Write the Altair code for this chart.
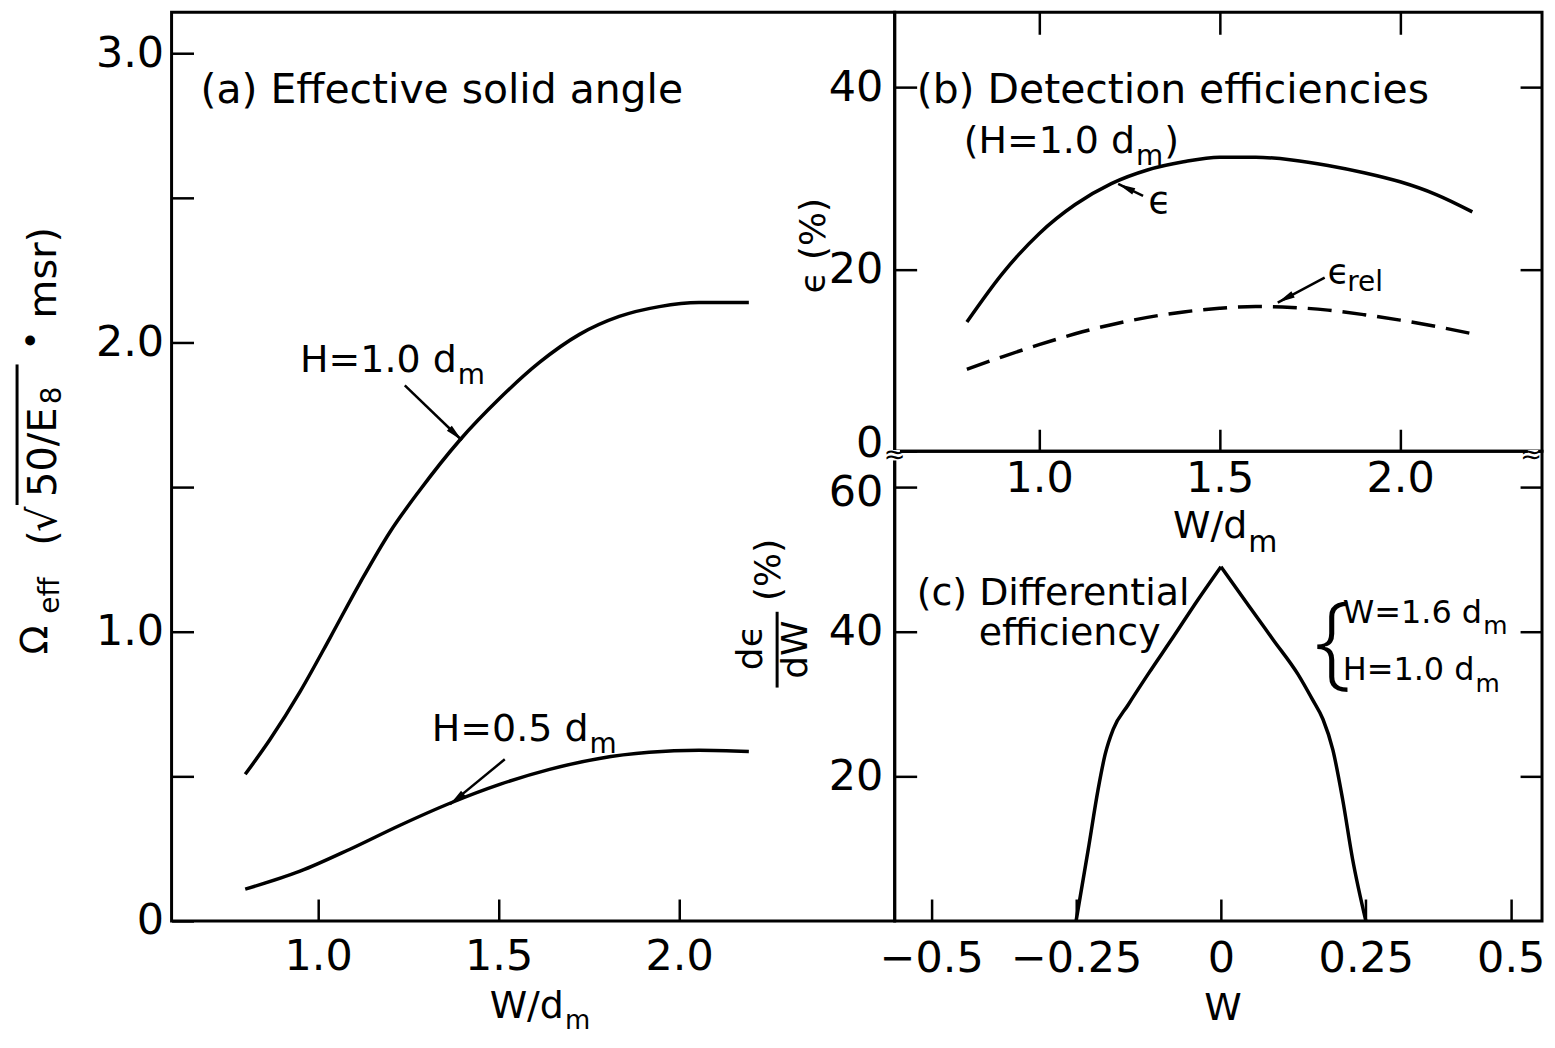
import math
import altair as alt
import pandas as pd

FONT = "DejaVu Sans"

# ---------------- data ----------------
# (a) effective solid angle
a_w_h10 = [0.798, 0.867, 0.950, 1.033, 1.116, 1.199, 1.282, 1.392, 1.503, 1.613, 1.724, 1.834, 1.945, 2.055, 2.193]
a_om_h10 = [0.507, 0.628, 0.793, 0.979, 1.169, 1.345, 1.490, 1.662, 1.807, 1.931, 2.028, 2.090, 2.124, 2.138, 2.138]
a_w_h05 = [0.798, 0.950, 1.088, 1.227, 1.365, 1.503, 1.641, 1.779, 1.917, 2.055, 2.193]
a_om_h05 = [0.110, 0.172, 0.248, 0.331, 0.407, 0.472, 0.524, 0.562, 0.583, 0.590, 0.586]

# (b) detection efficiencies
b_w = [0.8, 0.9, 1.0, 1.1, 1.2, 1.3, 1.4, 1.5, 1.6, 1.7, 1.8, 1.9, 2.0, 2.1, 2.2]
b_eps = [14.2, 19.6, 23.9, 27.1, 29.4, 30.9, 31.8, 32.3, 32.3, 32.0, 31.4, 30.6, 29.6, 28.2, 26.3]
b_eps_rel = [9.0, 10.4, 11.7, 12.9, 13.9, 14.7, 15.3, 15.7, 15.9, 15.8, 15.5, 15.0, 14.4, 13.7, 12.9]

# (c) differential efficiency (rising and falling sides meet at the peak)
c_w_left = [-0.25, -0.229, -0.212, -0.2, -0.186, -0.16, -0.126, -0.083, -0.04, 0.0]
c_de_left = [0.0, 9.9, 18.2, 23.0, 26.5, 29.9, 34.1, 39.2, 44.4, 49.0]
c_w_right = [0.0, 0.047, 0.09, 0.133, 0.158, 0.176, 0.193, 0.21, 0.227, 0.25]
c_de_right = [49.0, 43.7, 38.9, 34.1, 30.6, 27.9, 23.7, 16.8, 8.6, 0.0]

# ticks
a_x_ticks = [1.0, 1.5, 2.0]
a_y_ticks = [0, 0.5, 1.0, 1.5, 2.0, 2.5, 3.0]
b_x_ticks = [1.0, 1.5, 2.0]
b_y_ticks = [0, 20, 40]
c_x_ticks = [-0.5, -0.25, 0, 0.25, 0.5]
c_y_ticks = [20, 40, 60]

# panel geometry (domains / sizes)
A_X, A_Y, A_W, A_H = [0.594, 2.597], [0, 3.1414], 725, 911
B_X, B_Y, B_W, B_H = [0.6, 2.393], [0, 48.22], 649, 440
C_X, C_Y, C_W, C_H = [-0.563, 0.554], [0, 64.97], 649, 471

EPS = "ϵ"

# DejaVu Sans advance widths (em)
ADV = {' ': 0.318, '(': 0.390, ')': 0.390, '=': 0.838, '.': 0.318, '/': 0.337,
       'H': 0.752, 'W': 0.989, 'd': 0.635, EPS: 0.52, 'E': 0.632, 'e': 0.615,
       'f': 0.352, 'm': 0.974, 's': 0.521, 'r': 0.411, 'l': 0.278, '%': 0.950}


def tw(s, size):
    return sum(ADV.get(ch, 0.636) for ch in s) * size


def scl(dom):
    return alt.Scale(domain=dom, nice=False, zero=False)


def axis(orient, values, labels=True, fmt=None, expr=None, pad=10, tick=22, loff=None):
    kw = dict(orient=orient, values=values, title=None, domain=False, ticks=True,
              tickSize=tick, offset=-tick, tickColor="black", tickWidth=2.5, grid=False,
              labels=labels, labelFont=FONT, labelFontSize=43, labelColor="black",
              labelPadding=pad, labelFlush=False, labelOverlap=False, labelBound=False)
    if fmt:
        kw["format"] = fmt
    if expr:
        kw["labelExpr"] = expr
    if loff is not None:
        kw["labelOffset"] = loff
    return alt.Axis(**kw)


def txt(xs, ys, t, x, y, size, align="left", baseline="alphabetic", angle=0, dx=0, dy=0,
        font=FONT, weight="normal"):
    df = pd.DataFrame({"x": [x], "y": [y], "t": [t]})
    return alt.Chart(df).mark_text(align=align, baseline=baseline, angle=angle, dx=dx, dy=dy,
                                   fontSize=size, font=font, fontWeight=weight, color="black").encode(
        x=alt.X("x:Q", scale=xs, axis=None), y=alt.Y("y:Q", scale=ys, axis=None), text="t:N")


def sub_txt(xs, ys, x, y, base, bsize, sub, ssize, sdy, tail=None):
    out = [txt(xs, ys, base, x, y, bsize)]
    dx = tw(base, bsize) + 1
    out.append(txt(xs, ys, sub, x, y, ssize, dx=dx, dy=sdy))
    if tail:
        out.append(txt(xs, ys, tail, x, y, bsize, dx=dx + tw(sub, ssize) + 1))
    return out


ARROW = "M0,0L0.45,2.2L-0.45,2.2Z"


def arrow(xs, ys, kx, ky, x1, y1, x2, y2):
    df = pd.DataFrame({"x": [x1], "y": [y1], "x2": [x2], "y2": [y2]})
    rule = alt.Chart(df).mark_rule(color="black", strokeWidth=2.5).encode(
        x=alt.X("x:Q", scale=xs, axis=None), y=alt.Y("y:Q", scale=ys, axis=None),
        x2="x2:Q", y2="y2:Q")
    ang = math.degrees(math.atan2((x2 - x1) * kx, (y2 - y1) * ky)) % 360
    head = alt.Chart(pd.DataFrame({"x": [x2], "y": [y2]})).mark_point(
        shape=ARROW, filled=True, size=250, angle=ang, color="black", opacity=1).encode(
        x=alt.X("x:Q", scale=xs, axis=None), y=alt.Y("y:Q", scale=ys, axis=None))
    return [rule, head]


# ---------------- panel (a) ----------------
xa, ya = scl(A_X), scl(A_Y)
kxa, kya = A_W / (A_X[1] - A_X[0]), A_H / (A_Y[1] - A_Y[0])
a_expr = "datum.value == 0 ? '0' : (datum.value % 1 == 0 ? format(datum.value, '.1f') : '')"
la1 = alt.Chart(pd.DataFrame({"W": a_w_h10, "v": a_om_h10})).mark_line(
    color="black", strokeWidth=3.5, interpolate="monotone").encode(
    x=alt.X("W:Q", scale=xa, axis=axis("bottom", a_x_ticks, fmt=".1f", pad=15)),
    y=alt.Y("v:Q", scale=ya, axis=axis("left", a_y_ticks, expr=a_expr, pad=8)))
la2 = alt.Chart(pd.DataFrame({"W": a_w_h05, "v": a_om_h05})).mark_line(
    color="black", strokeWidth=3.5, interpolate="monotone").encode(
    x=alt.X("W:Q", scale=xa, axis=None), y=alt.Y("v:Q", scale=ya, axis=None))

ann_a = [txt(xa, ya, "(a) Effective solid angle", 0.674, 2.828, 41)]
ann_a += sub_txt(xa, ya, 0.950, 1.897, "H=1.0 d", 38, "m", 28, 12)
ann_a += arrow(xa, ya, kxa, kya, 1.240, 1.852, 1.398, 1.662)
ann_a += sub_txt(xa, ya, 1.315, 0.621, "H=0.5 d", 38, "m", 28, 12)
ann_a += arrow(xa, ya, kxa, kya, 1.517, 0.559, 1.365, 0.403)
ann_a += sub_txt(xa, ya, 1.475, -0.334, "W/d", 38, "m", 26, 11)
# rotated y-axis title pieces
ann_a += [
    txt(xa, ya, "Ω", 0.249, 0.921, 38, angle=270),
    txt(xa, ya, "eff", 0.282, 1.062, 28, angle=270),
    txt(xa, ya, "(", 0.2736, 1.297, 40, angle=270),
    txt(xa, ya, "√", 0.2736, 1.345, 40, angle=270),
    txt(xa, ya, "50/E", 0.2736, 1.466, 40, angle=270),
    txt(xa, ya, "8", 0.2875, 1.786, 28, angle=270),
    txt(xa, ya, "•", 0.2377, 1.972, 34, angle=270),
    txt(xa, ya, "msr)", 0.2736, 2.083, 40, angle=270),
]
ann_a.append(alt.Chart(pd.DataFrame({"x": [0.166], "y": [1.438], "y2": [1.924]})).mark_rule(
    color="black", strokeWidth=3).encode(
    x=alt.X("x:Q", scale=xa, axis=None), y=alt.Y("y:Q", scale=ya, axis=None), y2="y2:Q"))

panel_a = alt.layer(la1, la2, *ann_a).resolve_axis(x="independent", y="independent").properties(
    width=A_W, height=A_H)

# ---------------- panel (b) ----------------
xb, yb = scl(B_X), scl(B_Y)
kxb, kyb = B_W / (B_X[1] - B_X[0]), B_H / (B_Y[1] - B_Y[0])
b_loff = {"condition": {"test": "datum.value == 0", "value": -8}, "value": 0}
lb1 = alt.Chart(pd.DataFrame({"W": b_w, "v": b_eps})).mark_line(
    color="black", strokeWidth=3.5, interpolate="monotone").encode(
    x=alt.X("W:Q", scale=xb, axis=axis("bottom", b_x_ticks, fmt=".1f", pad=6)),
    y=alt.Y("v:Q", scale=yb, axis=axis("left", b_y_ticks, fmt="d", pad=12, loff=b_loff)))
lb2 = alt.Chart(pd.DataFrame({"W": b_w, "v": b_eps_rel})).mark_line(
    color="black", strokeWidth=3.5, strokeDash=[24, 11], interpolate="monotone").encode(
    x=alt.X("W:Q", scale=xb, axis=axis("top", b_x_ticks, labels=False)),
    y=alt.Y("v:Q", scale=yb, axis=axis("right", [20, 40], labels=False)))

ann_b = [txt(xb, yb, "(b) Detection efficiencies", 0.661, 38.25, 41)]
ann_b += sub_txt(xb, yb, 0.791, 32.77, "(H=1.0 d", 38, "m", 28, 12, tail=")")
ann_b += [txt(xb, yb, EPS, 1.302, 26.19, 38)]
ann_b += arrow(xb, yb, kxb, kyb, 1.288, 28.05, 1.219, 29.37)
ann_b += sub_txt(xb, yb, 1.799, 18.41, EPS, 36, "rel", 28, 7)
ann_b += arrow(xb, yb, kxb, kyb, 1.791, 19.07, 1.661, 16.33)
ann_b += [txt(xb, yb, EPS + " (%)", 0.376, 22.58, 36, align="center", baseline="middle", angle=270)]
ann_b += sub_txt(xb, yb, 1.371, -9.53, "W/d", 38, "m", 30, 14)

panel_b = alt.layer(lb1, lb2, *ann_b).resolve_axis(x="independent", y="independent").properties(
    width=B_W, height=B_H)

# ---------------- panel (c) ----------------
xc, yc = scl(C_X), scl(C_Y)
c_expr = "datum.value == 0 ? '0' : format(datum.value, '~g')"
c_loff = {"condition": {"test": "datum.value == 60", "value": 5}, "value": 0}
c_df = pd.DataFrame({
    "W": c_w_left + c_w_right,
    "v": c_de_left + c_de_right,
    "side": ["rise"] * len(c_w_left) + ["fall"] * len(c_w_right),
})
lc1 = alt.Chart(c_df).mark_line(color="black", strokeWidth=3.5, interpolate="monotone").encode(
    x=alt.X("W:Q", scale=xc, axis=axis("bottom", c_x_ticks, expr=c_expr, pad=17)),
    y=alt.Y("v:Q", scale=yc, axis=axis("left", c_y_ticks, fmt="d", pad=12, loff=c_loff)),
    detail="side:N")
lc2 = alt.Chart(c_df).mark_line(opacity=0).encode(
    x=alt.X("W:Q", scale=xc, axis=None),
    y=alt.Y("v:Q", scale=yc, axis=axis("right", c_y_ticks, labels=False)),
    detail="side:N")

ann_c = [
    txt(xc, yc, "(c) Differential", -0.525, 43.72, 38),
    txt(xc, yc, "efficiency", -0.418, 38.21, 38),
    txt(xc, yc, "{", 0.1928, 38.21, 104, align="center", baseline="middle",
        font="Open Sans", weight=300),
]
ann_c += sub_txt(xc, yc, 0.2100, 41.24, "W=1.6 d", 32, "m", 25, 11)
ann_c += sub_txt(xc, yc, 0.2100, 33.38, "H=1.0 d", 32, "m", 25, 12)
ann_c += [
    txt(xc, yc, "d" + EPS, -0.811, 37.79, 36, align="center", baseline="middle", angle=270),
    txt(xc, yc, "dW", -0.7332, 37.52, 36, align="center", baseline="middle", angle=270),
    txt(xc, yc, "(%)", -0.7797, 48.55, 36, align="center", baseline="middle", angle=270),
    txt(xc, yc, "W", 0.0034, -13.66, 38, align="center"),
]
ann_c.append(alt.Chart(pd.DataFrame({"x": [-0.7659], "y": [32.28], "y2": [42.76]})).mark_rule(
    color="black", strokeWidth=3).encode(
    x=alt.X("x:Q", scale=xc, axis=None), y=alt.Y("y:Q", scale=yc, axis=None), y2="y2:Q"))
brk_l = pd.DataFrame({"x": [C_X[0]], "y": [64.41], "t": ["≈"]})
brk_r = pd.DataFrame({"x": [C_X[1]], "y": [64.41], "t": ["≈"]})
for df_b, al, sq_off in [(brk_l, "center", 0), (brk_r, "right", -9)]:
    ann_c.append(alt.Chart(df_b).mark_point(shape="square", filled=True, color="white", size=110,
                                            opacity=1, xOffset=sq_off).encode(
        x=alt.X("x:Q", scale=xc, axis=None), y=alt.Y("y:Q", scale=yc, axis=None)))
    ann_c.append(alt.Chart(df_b).mark_text(fontSize=26, font=FONT, color="black", baseline="middle",
                                           align=al).encode(
        x=alt.X("x:Q", scale=xc, axis=None), y=alt.Y("y:Q", scale=yc, axis=None), text="t:N"))

panel_c = alt.layer(lc1, lc2, *ann_c).resolve_axis(x="independent", y="independent").properties(
    width=C_W, height=C_H)

chart = alt.hconcat(
    panel_a,
    alt.vconcat(panel_b, panel_c, spacing=0, bounds="flush"),
    spacing=0, bounds="flush",
).properties(
    padding={"left": 6, "top": 0, "right": 0, "bottom": 0}
).configure_view(stroke="black", strokeWidth=3)

chart.save("out.html", embed_options={"renderer": "svg", "actions": False})
